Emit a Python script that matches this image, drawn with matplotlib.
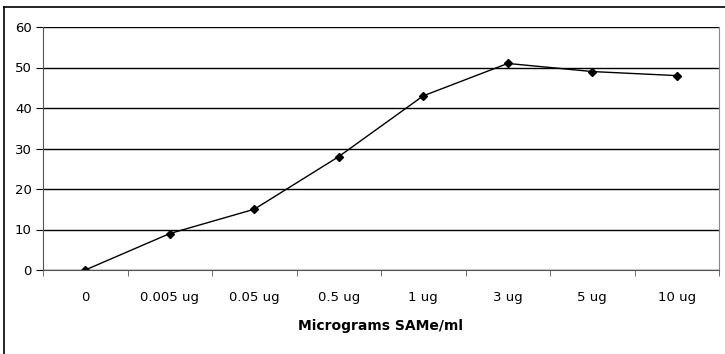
import matplotlib.pyplot as plt
from matplotlib.lines import Line2D

# dose labels and response
doses = ["0", "0.005 ug", "0.05 ug", "0.5 ug", "1 ug", "3 ug", "5 ug", "10 ug"]
response = [0, 9, 15, 28, 43, 51, 49, 48]

plt.rcParams['font.family'] = ['DejaVu Sans']

fig = plt.figure(figsize=(7.25, 3.54), dpi=100)
ax = fig.add_axes([43 / 725, 1 - 270 / 354, 676 / 725, 243 / 354])

x = list(range(len(doses)))
ax.plot(x, response, color='black', linewidth=1.0, marker='D', markersize=4.5)

ax.set_xlim(-0.5, len(doses) - 0.5)
ax.set_ylim(0, 60)
ax.set_yticks(range(0, 61, 10))
ax.yaxis.grid(True, color='black', linewidth=1.0)
ax.set_axisbelow(True)

# category labels in the middle, tick marks on the boundaries
ax.set_xticks(x)
ax.set_xticklabels(doses, fontsize=9.5)
ax.tick_params(axis='x', length=0, pad=15)
ax.set_xticks([i - 0.5 for i in range(len(doses) + 1)], minor=True)
ax.tick_params(axis='x', which='minor', direction='out', length=4, color='#555555')
ax.tick_params(axis='y', direction='out', length=5, labelsize=9.5, pad=3)

ax.set_xlabel("Micrograms SAMe/ml", fontsize=10, fontweight='bold', labelpad=11)

ax.spines['top'].set_visible(False)
ax.spines['right'].set_color('#888888')
ax.spines['left'].set_color('#555555')
ax.spines['bottom'].set_color('#555555')

# outer chart frame (cut off at the right and bottom)
fig.add_artist(Line2D([4 / 725, 4 / 725], [0, 1 - 7 / 354], color='black', linewidth=1.2))
fig.add_artist(Line2D([4 / 725, 1], [1 - 7 / 354, 1 - 7 / 354], color='black', linewidth=1.2))

fig.savefig("out.png", dpi=100)
